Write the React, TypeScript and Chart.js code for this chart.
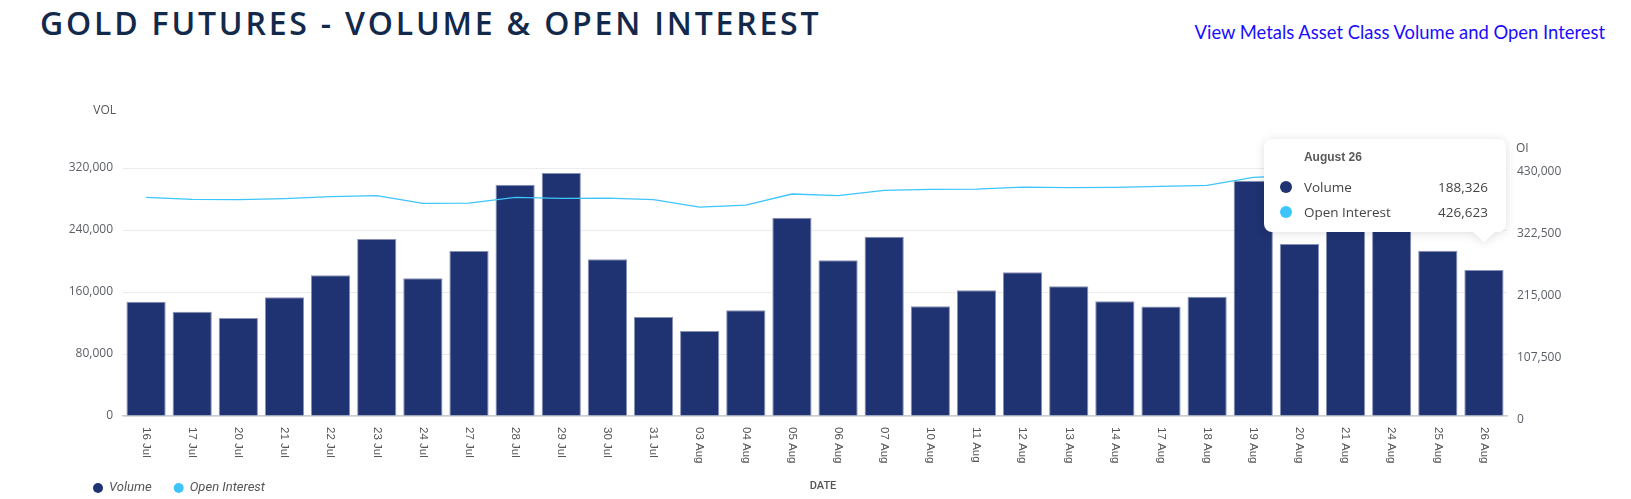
import { useEffect, useRef } from "react";
import { Chart, registerables, Tooltip } from "chart.js";

Chart.register(...registerables);

// Trading days shown on the category axis
const dates = [
  "16 Jul", "17 Jul", "20 Jul", "21 Jul", "22 Jul", "23 Jul", "24 Jul", "27 Jul",
  "28 Jul", "29 Jul", "30 Jul", "31 Jul", "03 Aug", "04 Aug", "05 Aug", "06 Aug",
  "07 Aug", "10 Aug", "11 Aug", "12 Aug", "13 Aug", "14 Aug", "17 Aug", "18 Aug",
  "19 Aug", "20 Aug", "21 Aug", "24 Aug", "25 Aug", "26 Aug",
];

// Daily volume (left axis)
const volume = [
  147300, 134400, 126600, 153300, 181700, 228300, 177900, 212800,
  298500, 313500, 202400, 127900, 109800, 136500, 255800, 201100,
  231300, 141700, 162400, 185600, 167500, 148200, 141300, 153800,
  303600, 221800, 262000, 251000, 213200, 188326,
];

// Open interest (right axis)
const openInterest = [
  379100, 375600, 375000, 376800, 380200, 382000, 368700, 369200,
  379100, 377300, 377900, 375000, 362300, 365800, 384900, 382000,
  391200, 393000, 393500, 397000, 395900, 396500, 398200, 399900,
  413800, 417000, 419500, 421800, 424500, 426623,
];

const volTicks = [0, 80000, 160000, 240000, 320000];
const oiTicks = [0, 107500, 215000, 322500, 430000];

const monthNames: Record<string, string> = { Jul: "July", Aug: "August" };

const VOL_COLOR = "#1f3271";
const OI_COLOR = "#3ec5fb";
const TICK_COLOR = "#5a5e66";

const fmt = (v: number) => v.toLocaleString("en-US");

// tooltip anchored on top of the bar, like the original
(Tooltip.positioners as any).barTop = function (items: any[]) {
  const bar = items.find((it) => it.datasetIndex === 0) || items[0];
  if (!bar) return false;
  return { x: bar.element.x, y: bar.element.y };
};

const overlayPlugin = {
  id: "overlay",
  afterDraw(chart: any) {
    const { ctx, chartArea, scales } = chart;
    const xs = scales.x;
    ctx.save();

    // rotated date labels, reading top to bottom
    ctx.font = "11.5px 'Liberation Sans', Arial, sans-serif";
    ctx.fillStyle = "#555";
    ctx.textAlign = "left";
    ctx.textBaseline = "middle";
    chart.data.labels.forEach((lab: string, i: number) => {
      const x = xs.getPixelForValue(i);
      ctx.save();
      ctx.translate(x, xs.top + 11);
      ctx.rotate(Math.PI / 2);
      ctx.fillText(lab, 0, 0);
      ctx.restore();
    });

    // axis titles
    ctx.font = "12px 'Open Sans', sans-serif";
    ctx.fillStyle = "#555";
    ctx.textAlign = "right";
    ctx.fillText("VOL", chartArea.left - 7, chartArea.top - 57.5);
    ctx.textAlign = "left";
    ctx.fillText("OI", chartArea.right + 9, chartArea.top - 19.5);

    ctx.font = "500 11px Roboto, sans-serif";
    ctx.textAlign = "center";
    ctx.fillText("DATE", (chartArea.left + chartArea.right) / 2 + 8, xs.bottom - 13);

    // legend
    let lx = chartArea.left - 25;
    const ly = xs.bottom - 11;
    ctx.font = "italic 13px Roboto, sans-serif";
    ctx.textAlign = "left";
    chart.data.datasets.forEach((ds: any) => {
      ctx.fillStyle = ds.legendColor;
      ctx.beginPath();
      ctx.arc(lx, ly, 5, 0, Math.PI * 2);
      ctx.fill();
      ctx.fillStyle = "#555";
      ctx.fillText(ds.label, lx + 11, ly);
      lx += 11 + ctx.measureText(ds.label).width + 27;
    });

    ctx.restore();
  },
};

export default function App() {
  const canvasRef = useRef<HTMLCanvasElement>(null);
  const tipRef = useRef<HTMLDivElement>(null);
  const chartInstance = useRef<Chart | null>(null);

  useEffect(() => {
    if (!canvasRef.current) return;
    if (chartInstance.current) chartInstance.current.destroy();

    const ctx = canvasRef.current.getContext("2d");
    if (!ctx) return;

    const externalTooltip = (context: any) => {
      const { tooltip } = context;
      const el = tipRef.current;
      if (!el) return;
      if (tooltip.opacity === 0 || !tooltip.dataPoints?.length) {
        el.style.display = "none";
        return;
      }
      const pts = [...tooltip.dataPoints].sort((a: any, b: any) => a.datasetIndex - b.datasetIndex);
      const [day, mon] = String(pts[0].label).split(" ");
      const title = `${monthNames[mon] || mon} ${parseInt(day, 10)}`;
      const w = 242;
      const h = 93;
      const tipX = tooltip.caretX;
      const tipY = tooltip.caretY - 28;
      const left = tipX + 22 - w;
      const top = tipY - 10 - h;

      const rows = pts
        .map((p: any, i: number) => {
          const cy = 47.7 + i * 25.3;
          return `
          <div style="position:absolute;left:16px;top:${cy - 6}px;width:12px;height:12px;border-radius:50%;background:${p.dataset.legendColor}"></div>
          <div style="position:absolute;left:40px;top:${cy - 9}px;line-height:18px;font:13.5px 'Open Sans',sans-serif;color:#444">${p.dataset.label}</div>
          <div style="position:absolute;right:18px;top:${cy - 9}px;line-height:18px;font:13.5px 'Open Sans',sans-serif;color:#444">${fmt(p.raw)}</div>`;
        })
        .join("");

      el.innerHTML = `
        <div style="position:relative;width:${w}px;height:${h}px;background:#fff;border-radius:8px;">
          <div style="position:absolute;left:40px;top:11px;line-height:14px;font:bold 12px 'Liberation Sans',Arial,sans-serif;color:#5a5a5a">${title}</div>
          ${rows}
        </div>
        <div style="position:absolute;left:${tipX - left - 11}px;top:${h}px;width:0;height:0;border-left:11px solid transparent;border-right:11px solid transparent;border-top:10px solid #fff"></div>`;
      el.style.left = `${left}px`;
      el.style.top = `${top}px`;
      el.style.display = "block";
    };

    const chart = new Chart(ctx, {
      type: "bar",
      data: {
        labels: dates,
        datasets: [
          {
            label: "Volume",
            data: volume,
            backgroundColor: VOL_COLOR,
            hoverBackgroundColor: VOL_COLOR,
            borderColor: "#8891b7",
            hoverBorderColor: "#8891b7",
            borderWidth: 1,
            barPercentage: 0.85,
            categoryPercentage: 1,
            yAxisID: "y",
            order: 2,
            legendColor: VOL_COLOR,
          } as any,
          {
            label: "Open Interest",
            data: openInterest,
            type: "line",
            borderColor: OI_COLOR,
            backgroundColor: OI_COLOR,
            borderWidth: 1.3,
            pointRadius: 0,
            pointHoverRadius: 0,
            tension: 0,
            fill: false,
            yAxisID: "y1",
            order: 1,
            legendColor: OI_COLOR,
          } as any,
        ],
      },
      options: {
        responsive: true,
        maintainAspectRatio: false,
        animation: false,
        layout: { padding: { top: 168, left: 0, right: 0, bottom: 0 } },
        scales: {
          x: {
            offset: true,
            grid: { display: false, drawTicks: false },
            border: { color: "#c8ccd4", width: 1.5 },
            ticks: { display: false },
            afterFit: (s: any) => {
              s.height = 83;
            },
          },
          y: {
            position: "left",
            min: 0,
            max: 320000,
            afterBuildTicks: (s: any) => {
              s.ticks = volTicks.map((v) => ({ value: v }));
            },
            ticks: {
              padding: 10,
              color: TICK_COLOR,
              font: { family: "'Open Sans', sans-serif", size: 12 },
              callback: (v: any) => fmt(Number(v)),
            },
            grid: { color: "#ececec", drawTicks: false },
            border: { display: false },
            afterFit: (s: any) => {
              s.width = 123;
            },
          },
          y1: {
            position: "right",
            min: 0,
            max: 430000,
            afterBuildTicks: (s: any) => {
              s.ticks = oiTicks.map((v) => ({ value: v }));
            },
            ticks: {
              padding: 10,
              labelOffset: 4,
              color: TICK_COLOR,
              font: { family: "'Open Sans', sans-serif", size: 12 },
              callback: (v: any) => fmt(Number(v)),
            },
            grid: { display: false, drawTicks: false },
            border: { display: false },
            afterFit: (s: any) => {
              s.width = 124;
            },
          },
        },
        plugins: {
          legend: { display: false },
          tooltip: {
            enabled: false,
            position: "barTop" as any,
            external: externalTooltip,
          },
        },
      },
      plugins: [overlayPlugin],
    });
    chartInstance.current = chart;

    // show the tooltip for the last trading day
    const last = dates.length - 1;
    chart.tooltip?.setActiveElements(
      [
        { datasetIndex: 0, index: last },
        { datasetIndex: 1, index: last },
      ],
      { x: 0, y: 0 }
    );

    return () => {
      if (chartInstance.current) {
        chartInstance.current.destroy();
        chartInstance.current = null;
      }
    };
  }, []);

  return (
    <div style={{ position: "absolute", left: 0, top: 0, width: 1631, height: 499, background: "#fff" }}>
      <div
        style={{
          position: "absolute",
          left: 40,
          top: 5,
          margin: 0,
          fontFamily: "'Open Sans', sans-serif",
          fontWeight: 600,
          fontSize: 32,
          lineHeight: "36px",
          letterSpacing: 2.8,
          color: "#13294b",
          whiteSpace: "nowrap",
        }}
      >
        GOLD FUTURES - VOLUME &amp; OPEN INTEREST
      </div>
      <a
        href="#"
        style={{
          position: "absolute",
          right: 26,
          top: 23,
          fontFamily: "Lato, sans-serif",
          fontSize: 18.4,
          lineHeight: "18px",
          color: "#1a0dff",
          textDecoration: "none",
          whiteSpace: "nowrap",
        }}
      >
        View Metals Asset Class Volume and Open Interest
      </a>
      <div style={{ position: "absolute", left: 0, top: 0, width: 1631, height: 499 }}>
        <canvas ref={canvasRef} />
      </div>
      <div
        ref={tipRef}
        style={{
          position: "absolute",
          display: "none",
          pointerEvents: "none",
          filter: "drop-shadow(0 1px 5px rgba(0,0,0,0.13))",
        }}
      />
    </div>
  );
}
